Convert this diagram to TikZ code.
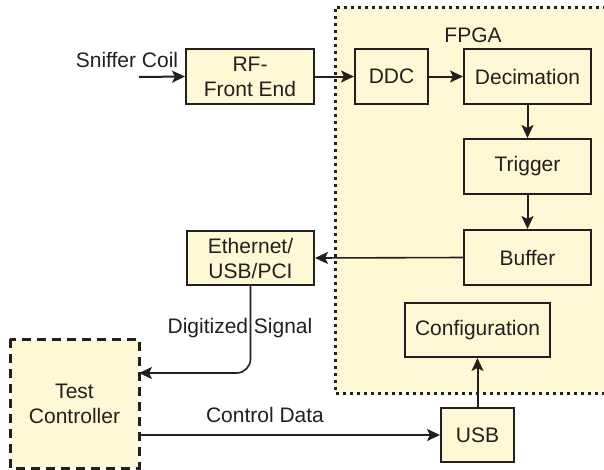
\documentclass[tikz,border=0pt]{standalone}
\usepackage{fontspec}
\setmainfont{Liberation Sans}
\usetikzlibrary{arrows.meta,calc}
\definecolor{cream}{HTML}{FFF8D4}
\definecolor{ink}{HTML}{231F20}
\begin{document}
\begin{tikzpicture}[x=1pt,y=-1pt,
  every node/.style={font=\fontsize{21}{25}\selectfont, text=ink},
  blk/.style={draw=ink, line width=2pt, fill=cream, rectangle, align=center, inner sep=0pt},
  arr/.style={draw=ink, line width=2pt, -{Stealth[length=13pt,width=12pt,inset=3pt]}},
  lbl/.style={inner sep=0pt}]
\useasboundingbox (0,0) rectangle (604,469);
\clip (0,0) rectangle (604,469);
% FPGA region
\fill[cream] (335,7) rectangle (620,393);
\draw[ink, line width=3pt, dash pattern=on 3pt off 4pt] (620,7) -- (335,7) -- (335,393) -- (620,393);
\node[lbl] (fpga) at (473,35) {FPGA};
% blocks
\node[blk, minimum width=128pt, minimum height=55pt] (rf) at (250,76.5) {RF-\\Front End};
\node[blk, minimum width=73pt, minimum height=55pt] (ddc) at (391.5,76.5) {DDC};
\node[blk, minimum width=127pt, minimum height=55pt] (dec) at (527.5,76.5) {Decimation};
\node[blk, minimum width=127pt, minimum height=55pt] (trig) at (527.5,166.5) {Trigger};
\node[blk, minimum width=127pt, minimum height=55pt] (buf) at (527.5,257.5) {Buffer};
\node[blk, minimum width=145pt, minimum height=54pt] (conf) at (477.5,330) {Configuration};
\node[blk, minimum width=73pt, minimum height=54pt] (usb) at (477.5,435) {USB};
\node[blk, minimum width=127pt, minimum height=54pt] (eth) at (250.5,258) {Ethernet/\\USB/PCI};
\node[blk, draw=none, minimum width=127pt, minimum height=127pt] (tc) at (74.5,403.5) {Test\\Controller};
\draw[ink, line width=3pt, dash pattern=on 9pt off 6pt] (tc.north west) rectangle (tc.south east);
% connectors
\coordinate (coil) at (139,77);
\node[lbl] (coillbl) at (127,60) {Sniffer Coil};
\draw[arr] (coil) -- (rf.west);
\draw[arr] (rf.east) -- (ddc.west);
\draw[arr] (ddc.east) -- (dec.west);
\draw[arr] (dec.south) -- (trig.north);
\draw[arr] (trig.south) -- (buf.north);
\draw[arr, line width=1.6pt] (buf.west) -- (eth.east);
\draw[arr, line width=1.6pt, rounded corners=14pt] (eth.south) |- ([yshift=30.5pt]tc.east);
\node[lbl] (diglbl) at (240,328) {Digitized Signal};
\draw[arr] (usb.west -| tc.east) -- (usb.west);
\node[lbl] (ctllbl) at (265,415) {Control Data};
\draw[arr] (usb.north) -- (conf.south);
\end{tikzpicture}
\end{document}
